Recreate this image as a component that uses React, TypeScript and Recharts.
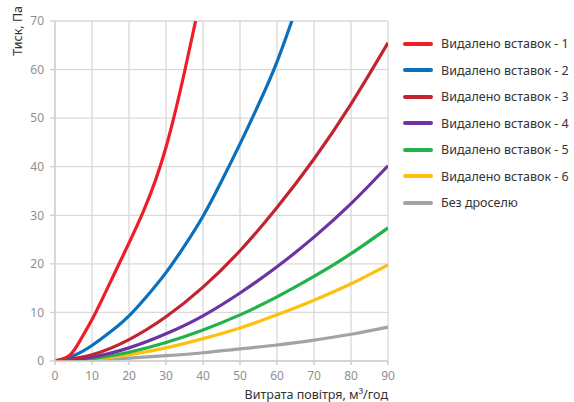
import { LineChart, Line, XAxis, YAxis, CartesianGrid } from "recharts";

// ─── Data ────────────────────────────────────────────────────────────────────

const X_TICKS = [0, 10, 20, 30, 40, 50, 60, 70, 80, 90];
const Y_TICKS = [0, 10, 20, 30, 40, 50, 60, 70];

const S1_X = [0, 4, 7, 11, 17, 24, 30, 35, 38];
const S1_Y = [0, 1.2, 4.5, 10, 19.5, 31, 44, 59.5, 70];

const S2_X = [0, 5, 10, 15, 20, 25, 30, 35, 40, 45, 50, 55, 60, 65];
const S2_Y = [0, 1.1, 3.2, 6, 9.3, 13.5, 18.2, 23.7, 29.8, 37, 44.7, 52.8, 61.6, 72.2];

const BASE_X = [0, 10, 20, 30, 40, 50, 60, 70, 80, 90];
const S3_Y = [0, 1.3, 4.4, 9.1, 15.2, 22.7, 31.6, 41.6, 52.9, 65.5];
const S4_Y = [0, 0.8, 2.7, 5.6, 9.3, 14, 19.4, 25.5, 32.4, 40.2];
const S5_Y = [0, 0.5, 1.8, 3.8, 6.4, 9.5, 13.2, 17.4, 22.1, 27.4];
const S6_Y = [0, 0.38, 1.3, 2.7, 4.6, 6.8, 9.5, 12.5, 15.9, 19.8];
const S7_Y = [0, 0.2, 0.6, 1.1, 1.7, 2.5, 3.3, 4.3, 5.5, 7];

const toPts = (xs: number[], ys: number[]) => xs.map((x, i) => ({ x, y: ys[i] }));

const SERIES = [
  { name: "Видалено вставок - 1", color: "#ee1d26", data: toPts(S1_X, S1_Y) },
  { name: "Видалено вставок - 2", color: "#0b6fbb", data: toPts(S2_X, S2_Y) },
  { name: "Видалено вставок - 3", color: "#c2232c", data: toPts(BASE_X, S3_Y) },
  { name: "Видалено вставок - 4", color: "#6d34a1", data: toPts(BASE_X, S4_Y) },
  { name: "Видалено вставок - 5", color: "#22b14b", data: toPts(BASE_X, S5_Y) },
  { name: "Видалено вставок - 6", color: "#fdc00f", data: toPts(BASE_X, S6_Y) },
  { name: "Без дроселю", color: "#a3a3a3", data: toPts(BASE_X, S7_Y) },
];

const FONT = "'Noto Sans', 'Open Sans', sans-serif";
const TICK = { fill: "#8f8f8f", fontSize: 12, fontFamily: FONT };

function XTitle({ viewBox }: any) {
  return (
    <text x={viewBox.x + viewBox.width} y={viewBox.y + 38} textAnchor="end"
      fill="#333" fontSize={12.5} fontFamily={FONT}>
      Витрата повітря, м³/год
    </text>
  );
}

function YTitle() {
  return (
    <text x={21.5} y={6} transform="rotate(-90, 21.5, 6)" textAnchor="end"
      fill="#333" fontSize={12.5} fontFamily={FONT}>
      Тиск, Па
    </text>
  );
}

export default function App() {
  return (
    <div style={{ position: "absolute", left: 0, top: 0, width: 574, height: 402, background: "#fff", fontFamily: FONT }}>
      <LineChart width={574} height={402} margin={{ top: 21, right: 186, bottom: 11, left: 0 }}>
        <CartesianGrid stroke="#d9d9d9" strokeWidth={1.3} />
        <XAxis
          type="number" dataKey="x" domain={[0, 90]} ticks={X_TICKS} allowDataOverflow
          height={30} tick={TICK} tickSize={4} tickMargin={6}
          stroke="#cfcfcf" strokeWidth={1.5}
          label={<XTitle />}
        />
        <YAxis
          type="number" dataKey="y" domain={[0, 70]} ticks={Y_TICKS} allowDataOverflow
          width={55} tick={TICK} tickSize={5} tickMargin={6}
          stroke="#cfcfcf" strokeWidth={1.3}
          label={<YTitle />}
        />
        {SERIES.slice().reverse().map((s) => (
          <Line
            key={s.name} data={s.data} dataKey="y" type="natural"
            stroke={s.color} strokeWidth={3.2} dot={false} isAnimationActive={false}
          />
        ))}
      </LineChart>

      {/* legend */}
      {SERIES.map((s, i) => (
        <div key={s.name} style={{ position: "absolute", left: 403, top: 43.5 + i * 26.5 - 9, height: 18, display: "flex", alignItems: "center" }}>
          <div style={{ width: 30, height: 4, borderRadius: 2, background: s.color }} />
          <span style={{ marginLeft: 8, fontSize: 12.5, color: "#333", whiteSpace: "nowrap" }}>{s.name}</span>
        </div>
      ))}
    </div>
  );
}
